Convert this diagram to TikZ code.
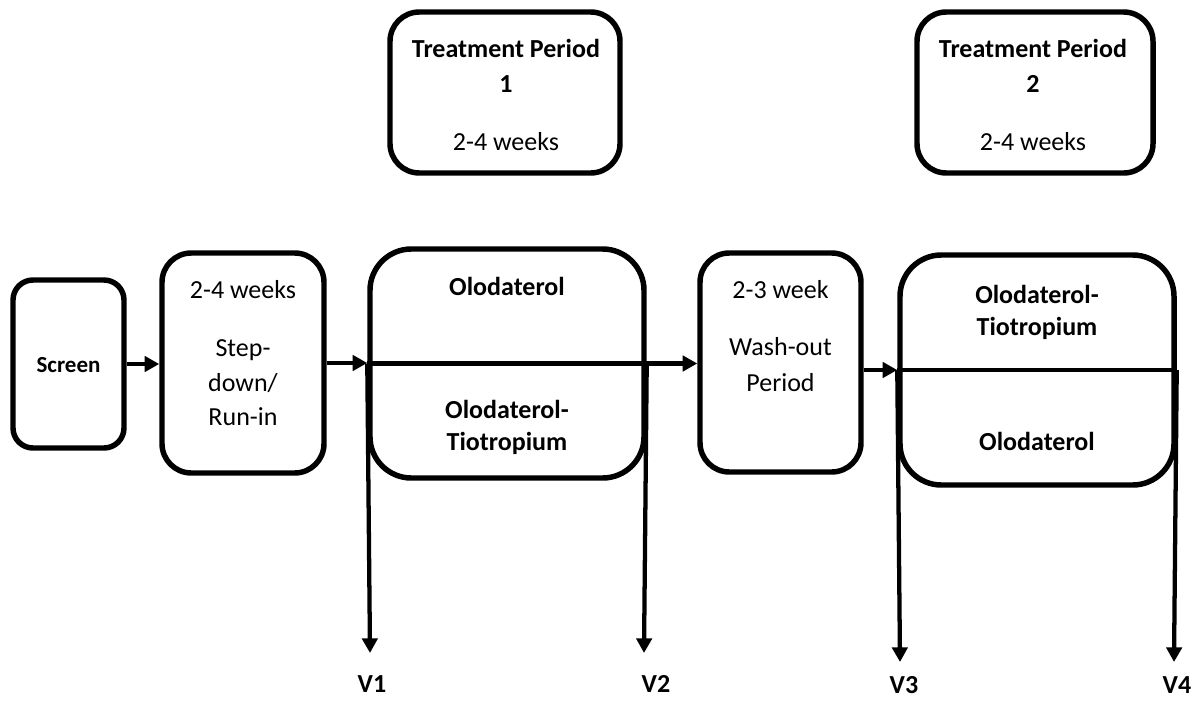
\documentclass[tikz,border=0pt]{standalone}
\usepackage{fontspec}
\setmainfont{Carlito}
\usetikzlibrary{arrows.meta}
\begin{document}
\begin{tikzpicture}[x=0.75pt,y=-0.75pt,
  box/.style={draw=black, line width=4.1pt, fill=white, inner sep=0pt},
  arr/.style={line width=3.2pt, -{Triangle[length=11pt,width=11.5pt]}},
  plain/.style={line width=3.2pt},
  txt/.style={font=\fontsize{19.5}{24}\selectfont, anchor=base, inner sep=0pt},
  btxt/.style={font=\fontsize{19.5}{24}\selectfont\bfseries, anchor=base, inner sep=0pt},
  stxt/.style={font=\fontsize{17.25}{21}\selectfont\bfseries, anchor=base, inner sep=0pt}]
\useasboundingbox (0,0) rectangle (1202,700);

% boxes
\node[box, rounded corners=15pt, minimum width=83.25pt, minimum height=126pt] (screen) at (68.5,364) {};
\node[box, rounded corners=22pt, minimum width=121.5pt, minimum height=165pt] (step) at (243,363) {};
\node[box, rounded corners=31pt, minimum width=205.5pt, minimum height=171.75pt] (ol1) at (507,363.5) {};
\node[box, rounded corners=22pt, minimum width=120.75pt, minimum height=164.25pt] (wash) at (780.5,362.5) {};
\node[box, rounded corners=31pt, minimum width=205.5pt, minimum height=172.5pt] (ol2) at (1037,370) {};
\node[box, rounded corners=22pt, minimum width=172.5pt, minimum height=120.75pt] (tp1) at (505,92.5) {};
\node[box, rounded corners=22pt, minimum width=177pt, minimum height=120.75pt] (tp2) at (1035,92.5) {};

% free ends of the visit arrows
\coordinate (v1) at (370,653);
\coordinate (v2) at (644,653);
\coordinate (v3) at (900,662);
\coordinate (v4) at (1174,662);

% connectors
\draw[arr] (screen.east) -- (screen.east -| step.west);
\draw[arr] (step.east) -- (step.east -| ol1.west);
\draw[arr] (ol1.west) -- (ol1.west -| wash.west);
\draw[arr] (wash.east |- ol2.west) -- (ol2.west);
\draw[plain] (ol2.west) -- (ol2.east);
\draw[arr] (ol1.west) -- (v1);
\draw[arr] (ol1.east) -- (v2);
\draw[arr] (ol2.west) -- (v3);
\draw[arr] (ol2.east) -- (v4);

% texts
\node[stxt] (tscreen) at (68.5,372) {Screen};

\node[txt] (ts1) at (243,298) {2-4 weeks};
\node[txt] (ts2) at (243,356) {Step-};
\node[txt] (ts3) at (243,391) {down/};
\node[txt] (ts4) at (243,425) {Run-in};

\node[btxt] (to1a) at (507,295) {Olodaterol};
\node[btxt] (to1b) at (507,418) {Olodaterol-};
\node[btxt] (to1c) at (507,450) {Tiotropium};

\node[txt] (tw1) at (780.5,298) {2-3 week};
\node[txt] (tw2) at (780.5,355) {Wash-out};
\node[txt] (tw3) at (780.5,391) {Period};

\node[btxt] (to2a) at (1037,303) {Olodaterol-};
\node[btxt] (to2b) at (1037,335) {Tiotropium};
\node[btxt] (to2c) at (1037,450) {Olodaterol};

\node[btxt] (tp1a) at (506,57) {Treatment Period};
\node[btxt] (tp1b) at (506,92) {1};
\node[txt] (tp1c) at (506,150) {2-4 weeks};

\node[btxt] (tp2a) at (1033,57) {Treatment Period};
\node[btxt] (tp2b) at (1033,92) {2};
\node[txt] (tp2c) at (1033,150) {2-4 weeks};

\node[btxt] (lv1) at (372,692) {V1};
\node[btxt] (lv2) at (656,692) {V2};
\node[btxt] (lv3) at (904,693) {V3};
\node[btxt] (lv4) at (1177,693) {V4};
\end{tikzpicture}
\end{document}
